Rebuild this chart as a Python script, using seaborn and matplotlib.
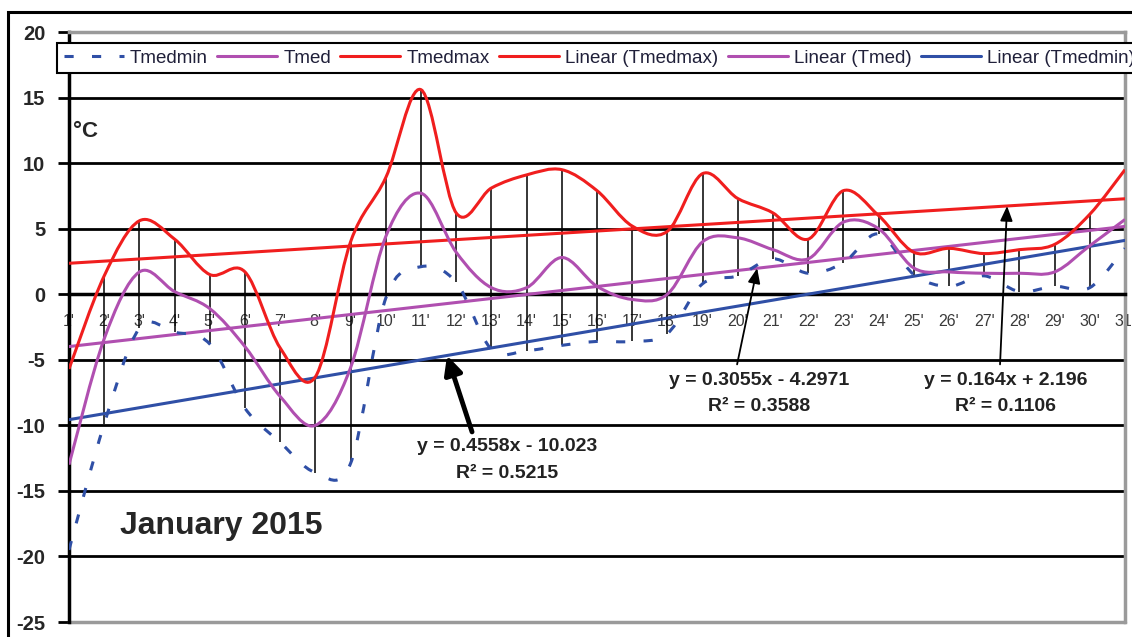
import numpy as np
import pandas as pd
import seaborn as sns
import matplotlib.pyplot as plt
from matplotlib.path import Path
from matplotlib.patches import PathPatch, Rectangle
from matplotlib.lines import Line2D

# daily values, January 2015
days = list(range(1, 32))
day_labels = [f"{d}'" for d in days]

tmedmax = [-5.7, 1.4, 5.6, 4.2, 1.5, 1.7, -4.1, -6.3, 4.0, 8.9,
           15.6, 6.2, 8.1, 9.1, 9.5, 7.9, 5.2, 4.8, 9.2, 7.3,
           6.2, 4.2, 7.9, 6.0, 3.2, 3.5, 3.1, 3.4, 3.8, 6.1, 9.5]
tmed = [-13.0, -3.4, 1.7, 0.2, -1.1, -4.0, -7.8, -10.0, -5.6, 4.4,
        7.7, 3.2, 0.5, 0.5, 2.8, 0.6, -0.4, 0.0, 4.0, 4.3,
        3.4, 2.7, 5.5, 5.0, 2.0, 1.7, 1.6, 1.6, 1.7, 3.7, 5.7]
tmedmin = [-19.5, -9.9, -2.6, -2.9, -3.8, -8.7, -11.3, -13.6, -12.9, -0.3,
           2.1, 0.9, -4.2, -4.3, -3.9, -3.6, -3.6, -3.0, 0.8, 1.4,
           2.7, 1.6, 2.4, 4.6, 1.5, 0.6, 1.4, 0.2, 0.6, 0.5, 3.5]

# trend lines: slope, intercept, R^2 (as printed on the chart)
trend_max = (0.164, 2.196, 0.1106)
trend_med = (0.3055, -4.2971, 0.3588)
trend_min = (0.4558, -10.023, 0.5215)

y_ticks = list(range(-25, 21, 5))

RED = '#f01e1e'
PURPLE = '#b04fb0'
BLUE = '#2f4fa6'


def smooth_path(x, y):
    # excel-like smoothed line as cubic bezier segments
    p = np.column_stack([x, y]).astype(float)
    pad = np.vstack([p[:1], p, p[-1:]])
    verts = [tuple(p[0])]
    codes = [Path.MOVETO]
    for k in range(len(p) - 1):
        a, b, c, d = pad[k], pad[k + 1], pad[k + 2], pad[k + 3]
        c1 = b + (c - a) / 6
        c2 = c - (d - b) / 6
        verts += [tuple(c1), tuple(c2), tuple(c)]
        codes += [Path.CURVE4] * 3
    return Path(verts, codes)


sns.set_style("white")
plt.rcParams['font.family'] = ['Liberation Sans', 'DejaVu Sans']
plt.rcParams['axes.unicode_minus'] = False

fig = plt.figure(figsize=(11.32, 6.37), dpi=100)
ax = fig.add_axes([69 / 1132, 1 - 622 / 637, (1125 - 69) / 1132, (622 - 32) / 637])
ax.set_xlim(1, 31)
ax.set_ylim(-25, 20)

for v in y_ticks[1:-1]:
    ax.axhline(v, color='black', lw=2, zorder=1)
ax.axhline(-25, color='#9a9a9a', lw=2.5, zorder=1, clip_on=False)

# high-low lines
ax.vlines(days, tmedmin, tmedmax, color='black', lw=1.1, zorder=2)

# linear trends
trend = pd.DataFrame({'day': days})
for name, (m, b, _), col in [('Linear (Tmedmax)', trend_max, RED),
                             ('Linear (Tmed)', trend_med, PURPLE),
                             ('Linear (Tmedmin)', trend_min, BLUE)]:
    trend[name] = m * trend['day'] + b
    sns.lineplot(data=trend, x='day', y=name, color=col, lw=2.2, ax=ax, legend=False, zorder=3)

# smoothed daily series
dash = (0, (3, 6))
ax.add_patch(PathPatch(smooth_path(days, tmedmin), fill=False, edgecolor=BLUE, lw=2.2, ls=dash, zorder=4))
ax.add_patch(PathPatch(smooth_path(days, tmed), fill=False, edgecolor=PURPLE, lw=2.2, zorder=4))
ax.add_patch(PathPatch(smooth_path(days, tmedmax), fill=False, edgecolor=RED, lw=2.2, zorder=4))

# axes styling
ax.set_xlabel('')
ax.set_ylabel('')
ax.set_xticks(days)
ax.set_xticklabels(day_labels)
ax.set_yticks(y_ticks)
ax.spines['bottom'].set_position(('data', 0))
ax.spines['bottom'].set_color('black')
ax.spines['bottom'].set_linewidth(2.5)
ax.spines['left'].set_color('black')
ax.spines['left'].set_linewidth(2.5)
for s in ['top', 'right']:
    ax.spines[s].set_color('#9a9a9a')
    ax.spines[s].set_linewidth(2.5)
ax.tick_params(axis='x', direction='inout', length=11, width=2.2, pad=9,
               labelsize=11.5, labelcolor='#3a3a3a', color='black')
ax.tick_params(axis='y', direction='out', length=8, width=2, pad=9,
               labelsize=14.5, color='black', left=True)
for lbl in ax.get_yticklabels():
    lbl.set_fontweight('bold')

ax.text(1.1, 12.4, '°C', fontsize=16, fontweight='bold', va='center', ha='left')
ax.text(2.45, -17.7, 'January 2015', fontsize=23, fontweight='bold', va='center', ha='left')

# trend equations with arrows
notes = [(trend_min, 13.45, -11.65, (12.45, -10.5), 11.74, 3.5, 0.55, 0.27, 20),
         (trend_med, 20.6, -6.55, (19.98, -5.35), 20.55, 1.3, 0.6, 0.25, 15),
         (trend_max, 27.6, -6.55, (27.45, -5.35), 27.65, 1.3, 0.6, 0.25, 15)]
for (m, b, r2), tx, ty, tail, hx, alw, hl, hw, ms in notes:
    sign = '-' if b < 0 else '+'
    ax.text(tx, ty, f"y = {m:g}x {sign} {abs(b):g}", ha='center', va='center',
            fontsize=14, fontweight='bold', color='#222222', zorder=6)
    ax.text(tx, ty - 2.05, f"R² = {r2:.4f}", ha='center', va='center',
            fontsize=14, fontweight='bold', color='#222222', zorder=6)
    ax.annotate('', xy=(hx, m * hx + b), xytext=tail,
                arrowprops=dict(arrowstyle=f'-|>,head_length={hl},head_width={hw}',
                                lw=alw, color='black', shrinkA=0, shrinkB=0,
                                mutation_scale=ms), zorder=5)

handles = [Line2D([], [], color=BLUE, lw=2.2, ls=dash),
           Line2D([], [], color=PURPLE, lw=2.2),
           Line2D([], [], color=RED, lw=2.2),
           Line2D([], [], color=RED, lw=2.2),
           Line2D([], [], color=PURPLE, lw=2.2),
           Line2D([], [], color=BLUE, lw=2.2)]
labels = ['Tmedmin', 'Tmed', 'Tmedmax', 'Linear (Tmedmax)', 'Linear (Tmed)', 'Linear (Tmedmin)']
leg = fig.legend(handles, labels, loc='upper left', bbox_to_anchor=(57 / 1132, 1 - 43 / 637),
                 ncol=6, fontsize=13.5, handlelength=3.2, handletextpad=0.33, columnspacing=0.5,
                 borderpad=0.35, borderaxespad=0, fancybox=False, edgecolor='black', framealpha=1)
leg.get_frame().set_linewidth(1.5)
for t in leg.get_texts():
    t.set_color('#20203a')

# outer chart border
fig.add_artist(Rectangle((8 / 1132, -0.05), 1.1, 1 - 12 / 637 + 0.05, transform=fig.transFigure,
                         fill=False, edgecolor='black', lw=2.2))

fig.savefig('out.png', dpi=100)
